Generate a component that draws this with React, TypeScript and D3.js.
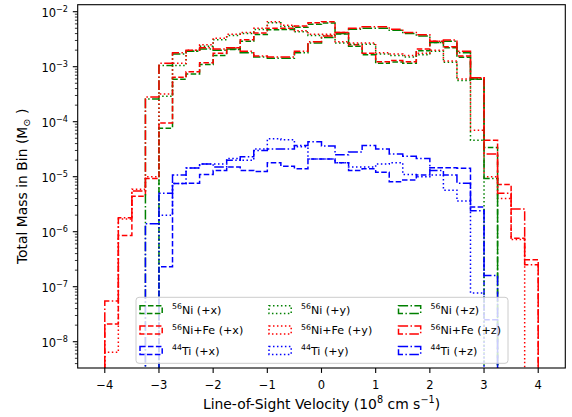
import React from 'react';
import * as d3 from 'd3';

// ---- data (bins of width 0.25 from -4 to 4; 0 = empty bin) ----
const binStart = -4;
const binWidth = 0.25;
const xTicks = [-4, -3, -2, -1, 0, 1, 2, 3, 4];
const yTickExps = [-8, -7, -6, -5, -4, -3, -2];

const ni56X = [0, 0, 0, 0, 7.6e-5, 5.9e-4, 7.4e-4, 1.1e-3, 1.6e-3, 2.05e-3, 2.9e-3, 3.85e-3, 4.7e-3, 4.75e-3, 5.2e-3, 5.9e-3, 6.2e-3, 3.95e-3, 2.35e-3, 1.65e-3, 1.15e-3, 1.22e-3, 1.15e-3, 1.95e-3, 2.75e-3, 2.2e-3, 1.48e-3, 5.9e-4, 3.4e-5, 0, 0, 0];
const niFeX = [2.1e-8, 8.5e-7, 4.4e-6, 9.3e-6, 9.5e-5, 6.4e-4, 8.1e-4, 1.18e-3, 1.75e-3, 2.2e-3, 3.1e-3, 4.1e-3, 5.0e-3, 5.0e-3, 5.5e-3, 6.3e-3, 6.6e-3, 4.2e-3, 2.5e-3, 1.75e-3, 1.23e-3, 1.3e-3, 1.23e-3, 2.1e-3, 2.9e-3, 2.3e-3, 1.57e-3, 6.3e-4, 4.6e-5, 7.2e-6, 7.6e-7, 3.1e-7];
const ti44X = [0, 0, 0, 0, 2.3e-7, 7.5e-6, 7.6e-6, 1.1e-5, 1.3e-5, 1.5e-5, 1.3e-5, 1.25e-5, 1.8e-5, 1.55e-5, 1.4e-5, 2.1e-5, 2.1e-5, 1.8e-5, 1.3e-5, 1.4e-5, 1.2e-5, 8.1e-6, 8.7e-6, 1.07e-5, 1.45e-5, 1.45e-5, 1.42e-5, 2.8e-6, 2.5e-8, 0, 0, 0];

const ni56Y = [0, 0, 0, 0, 2.9e-4, 1.05e-3, 1.9e-3, 2.35e-3, 3.1e-3, 3.7e-3, 4.0e-3, 4.75e-3, 6.3e-3, 5.4e-3, 4.3e-3, 3.7e-3, 3.7e-3, 2.7e-3, 2.55e-3, 2.55e-3, 1.7e-3, 1.6e-3, 1.5e-3, 1.65e-3, 1.9e-3, 1.2e-3, 5.6e-4, 4.6e-5, 0, 0, 0, 0];
const niFeY = [6.4e-9, 1.7e-6, 5.9e-6, 1.0e-5, 3.2e-4, 1.15e-3, 2.0e-3, 2.5e-3, 3.3e-3, 3.9e-3, 4.2e-3, 5.0e-3, 6.6e-3, 5.7e-3, 4.5e-3, 3.9e-3, 3.9e-3, 2.85e-3, 2.7e-3, 2.7e-3, 1.8e-3, 1.7e-3, 1.6e-3, 1.75e-3, 2.0e-3, 1.27e-3, 6.0e-4, 7.0e-5, 1.0e-5, 4.0e-6, 7.2e-7, 0];
const ti44Y = [0, 0, 0, 0, 2.0e-6, 7.5e-6, 1.44e-5, 1.7e-5, 1.7e-5, 2.15e-5, 2.0e-5, 3.2e-5, 4.9e-5, 4.7e-5, 3.5e-5, 2.1e-5, 2.1e-5, 1.8e-5, 1.5e-5, 1.5e-5, 1.7e-5, 1.8e-5, 1.1e-5, 1.0e-5, 1.07e-5, 5.7e-6, 3.6e-6, 7.7e-8, 0, 0, 0, 0];

const ni56Z = [0, 0, 0, 2.6e-4, 1.05e-3, 1.7e-3, 1.9e-3, 2.1e-3, 2.0e-3, 2.1e-3, 1.8e-3, 1.5e-3, 1.42e-3, 1.42e-3, 1.8e-3, 2.7e-3, 3.4e-3, 4.0e-3, 4.8e-3, 5.0e-3, 5.0e-3, 4.6e-3, 4.0e-3, 3.6e-3, 2.75e-3, 2.9e-3, 1.8e-3, 6.0e-4, 9.3e-6, 0, 0, 0];
const niFeZ = [5.5e-8, 1.8e-6, 5.5e-6, 2.8e-4, 1.15e-3, 1.8e-3, 2.0e-3, 2.2e-3, 2.1e-3, 2.2e-3, 1.9e-3, 1.57e-3, 1.5e-3, 1.5e-3, 1.9e-3, 2.85e-3, 3.6e-3, 4.2e-3, 5.0e-3, 5.3e-3, 5.3e-3, 4.8e-3, 4.2e-3, 3.8e-3, 2.9e-3, 3.05e-3, 1.9e-3, 6.3e-4, 2.6e-5, 5.0e-6, 2.6e-6, 2.5e-7];
const ti44Z = [0, 0, 0, 1.4e-6, 5.0e-6, 1.07e-5, 1.44e-5, 1.7e-5, 1.5e-5, 2.0e-5, 2.3e-5, 3.0e-5, 3.2e-5, 3.2e-5, 3.7e-5, 4.3e-5, 3.6e-5, 2.5e-5, 2.8e-5, 3.7e-5, 3.2e-5, 2.6e-5, 2.35e-5, 2.15e-5, 1.3e-5, 1.07e-5, 7.6e-6, 2.4e-6, 1.6e-7, 0, 0, 0];

const isotopes = [
  { key: 'ni', sup: '56', name: 'Ni' },
  { key: 'nife', sup: '56', name: 'Ni+Fe' },
  { key: 'ti', sup: '44', name: 'Ti' },
];
const directions = ['x', 'y', 'z'];
const valuesBy: Record<string, number[]> = {
  'ni-x': ni56X, 'nife-x': niFeX, 'ti-x': ti44X,
  'ni-y': ni56Y, 'nife-y': niFeY, 'ti-y': ti44Y,
  'ni-z': ni56Z, 'nife-z': niFeZ, 'ti-z': ti44Z,
};

// ---- styles ----
const colors: Record<string, string> = { ni: '#008000', nife: '#ff0000', ti: '#0000ff' };
const dashes: Record<string, string> = { x: '5.55,2.4', y: '1.5,2.48', z: '9.6,2.4,1.5,2.4' };
const LW = 1.5;

const W = 572, H = 417;
const L = 77.7, R = 565.3, T = 4.7, B = 368;
const FONT = 'DejaVu Sans, sans-serif';

export default function App() {
  const x = d3.scaleLinear().domain([-4.5, 4.5]).range([L, R]);
  const y = d3.scaleLog().domain([Math.pow(10, -8.478), Math.pow(10, -1.8727)]).range([B, T]);
  const floor = 1e-14;
  const line = d3.line<[number, number]>()
    .x(d => x(d[0]))
    .y(d => y(d[1] > 0 ? d[1] : floor))
    .curve(d3.curveStepAfter);

  const series: { id: string; iso: any; dir: string; values: number[] }[] = [];
  directions.forEach(dir => isotopes.forEach(iso => {
    series.push({ id: iso.key + '-' + dir, iso, dir, values: valuesBy[iso.key + '-' + dir] });
  }));

  const pathFor = (vals: number[]) => {
    const n = vals.length;
    const pts: [number, number][] = [[binStart, floor]];
    vals.forEach((v, i) => pts.push([binStart + i * binWidth, v]));
    pts.push([binStart + n * binWidth, vals[n - 1]]);
    pts.push([binStart + n * binWidth, floor]);
    return line(pts) || '';
  };

  const minor: number[] = [];
  for (let d = -9; d <= -1; d++) {
    for (let k = 2; k <= 9; k++) {
      const v = k * Math.pow(10, d);
      const py = y(v);
      if (py <= B && py >= T) minor.push(v);
    }
  }

  const legX = 136, legY = 297.3, legW = 372, legH = 66;
  const colX = [140, 269, 398.5];
  const rowY = [309.7, 330.0, 350.5];

  return (
    <svg width={W} height={H} style={{ position: 'absolute', left: 0, top: 0, background: '#fff' }}
      fontFamily={FONT}>
      <defs>
        <clipPath id="plotclip">
          <rect x={L} y={T} width={R - L} height={B - T} />
        </clipPath>
      </defs>
      <rect x={0} y={0} width={W} height={H} fill="#fff" />
      <g clipPath="url(#plotclip)">
        {series.map(s => (
          <path key={s.id} d={pathFor(s.values)} fill="none" stroke={colors[s.iso.key]}
            strokeWidth={LW} strokeDasharray={dashes[s.dir]} strokeLinejoin="miter" />
        ))}
      </g>
      <rect x={L} y={T} width={R - L} height={B - T} fill="none" stroke="#000" strokeWidth={1.1} />
      {xTicks.map(t => (
        <g key={'xt' + t}>
          <line x1={x(t)} x2={x(t)} y1={B} y2={B + 4.9} stroke="#000" strokeWidth={1.1} />
          <text x={x(t)} y={388.5} fontSize={11.5} textAnchor="middle" fill="#000">
            {t < 0 ? '\u2212' + Math.abs(t) : String(t)}
          </text>
        </g>
      ))}
      {minor.map((v, i) => (
        <line key={'ym' + i} x1={L} x2={L - 2.8} y1={y(v)} y2={y(v)} stroke="#000" strokeWidth={0.8} />
      ))}
      {yTickExps.map(e => {
        const py = y(Math.pow(10, e));
        return (
          <g key={'yt' + e}>
            <line x1={L} x2={L - 4.9} y1={py} y2={py} stroke="#000" strokeWidth={1.1} />
            <text x={68} y={py + 5.5} fontSize={11.5} textAnchor="end" fill="#000">
              10<tspan dy={-5.5} fontSize={8.1}>{'\u2212' + Math.abs(e)}</tspan>
            </text>
          </g>
        );
      })}
      <text x={(L + R) / 2} y={409} fontSize={13.9} textAnchor="middle" fill="#000">
        Line-of-Sight Velocity (10<tspan dy={-6} fontSize={9.7}>8</tspan>
        <tspan dy={6}> cm s</tspan><tspan dy={-6} fontSize={9.7}>{'\u22121'}</tspan>
        <tspan dy={6}>)</tspan>
      </text>
      <text transform={`translate(27,${(T + B) / 2}) rotate(-90)`} fontSize={13.9} textAnchor="middle" fill="#000">
        Total Mass in Bin (M<tspan dy={3} fontSize={9.7}>{'\u2299'}</tspan><tspan dy={-3}> )</tspan>
      </text>
      <rect x={legX} y={legY} width={legW} height={legH} rx={3} ry={3}
        fill="#fff" fillOpacity={0.8} stroke="#cccccc" strokeWidth={1} />
      {directions.map((dir, ci) => isotopes.map((iso, ri) => (
        <g key={'lg' + dir + iso.key}>
          <rect x={colX[ci]} y={rowY[ri] - 3.9} width={22.2} height={7.8} fill="none"
            stroke={colors[iso.key]} strokeWidth={LW} strokeDasharray={dashes[dir]} />
          <text x={colX[ci] + 32} y={rowY[ri] + 4.2} fontSize={11.1} fill="#000">
            <tspan dy={-4.6} fontSize={7.8}>{iso.sup}</tspan>
            <tspan dy={4.6}>{iso.name + ' (+' + dir + ')'}</tspan>
          </text>
        </g>
      )))}
    </svg>
  );
}
